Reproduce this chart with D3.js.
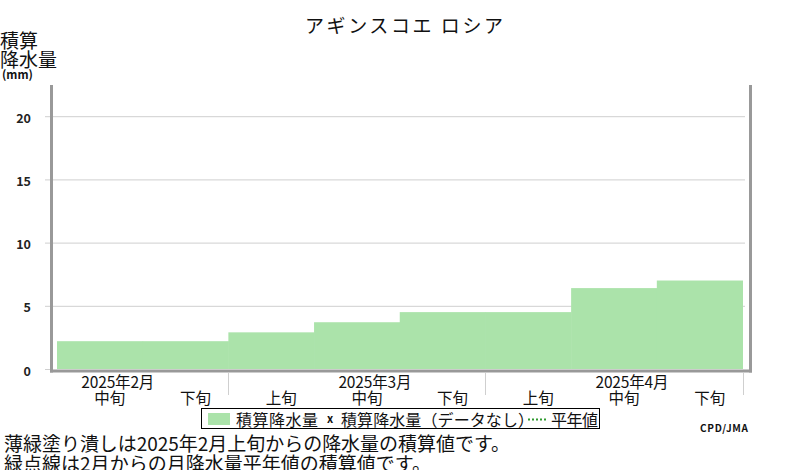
<!DOCTYPE html>
<html>
<head>
<meta charset="utf-8">
<script src="https://cdn.jsdelivr.net/npm/d3@7"></script>
<style>
  body { margin: 0; background: #fff; }
  svg { display: block; }
  text { font-family: "Noto Sans CJK JP", "DejaVu Sans", sans-serif; fill: #111; }
</style>
</head>
<body>
<div id="chart"></div>
<script>
const WIDTH = 800;
const HEIGHT = 470;

// data
const title = "アギンスコエ ロシア";
const dekads = ["中旬", "下旬", "上旬", "中旬", "下旬", "上旬", "中旬", "下旬"];
const months = ["2025年2月", "2025年3月", "2025年4月"];
const monthMid = [0, 3, 6]; // dekad index of each month's 中旬
const monthEnd = [2, 5, 8]; // separator after each month
const totals = [2.2, 2.2, 2.9, 3.7, 4.5, 4.5, 6.4, 7.0];
const yTicks = [0, 5, 10, 15, 20];
const notes = [
  "薄緑塗り潰しは2025年2月上旬からの降水量の積算値です。",
  "緑点線は2月からの月降水量平年値の積算値です。"
];

const GREEN = "#abe3aa";
const AXIS = "#999";
const GRID = "#cfcfcf";

const svg = d3.select("#chart").append("svg")
  .attr("width", WIDTH)
  .attr("height", HEIGHT);

const x = d3.scaleLinear().domain([0, dekads.length]).range([57, 742.5]);
const y = d3.scaleLinear().domain([0, 22.5]).range([369, 84.6]);

// title
svg.append("text")
  .attr("x", 404).attr("y", 24)
  .attr("text-anchor", "middle")
  .attr("dominant-baseline", "central")
  .attr("font-size", 19)
  .attr("textLength", 198)
  .text(title);

// y axis title
svg.append("text").attr("x", 0).attr("y", 39)
  .attr("dominant-baseline", "central").attr("font-size", 19).text("積算");
svg.append("text").attr("x", 0).attr("y", 58)
  .attr("dominant-baseline", "central").attr("font-size", 19).text("降水量");
svg.append("text").attr("x", 2).attr("y", 74)
  .attr("dominant-baseline", "central").attr("font-size", 11.5)
  .attr("font-weight", "bold").attr("font-family", "DejaVu Sans")
  .text("(mm)");

// grid + ticks
svg.append("g").selectAll("line").data(yTicks.filter(d => d > 0)).join("line")
  .attr("x1", 50).attr("x2", 745)
  .attr("y1", d => y(d) + 0.5).attr("y2", d => y(d) + 0.5)
  .attr("stroke", GRID);
svg.append("g").selectAll("line").data(yTicks).join("line")
  .attr("x1", 45).attr("x2", 50)
  .attr("y1", d => y(d) + 0.5).attr("y2", d => y(d) + 0.5)
  .attr("stroke", GRID);
svg.append("g").selectAll("text").data(yTicks).join("text")
  .attr("x", 31).attr("y", d => y(d) + 1)
  .attr("text-anchor", "end")
  .attr("dominant-baseline", "central")
  .attr("font-family", "DejaVu Sans")
  .attr("font-weight", "bold")
  .attr("font-size", 12.5)
  .style("fill", "#222")
  .text(d => d);

// bars
svg.append("g").selectAll("rect").data(totals).join("rect")
  .attr("x", (d, i) => x(i))
  .attr("width", (d, i) => x(i + 1) - x(i) + 0.5)
  .attr("y", d => y(d))
  .attr("height", d => y(0) - y(d))
  .attr("fill", GREEN);

// frame
const frame = svg.append("g").attr("stroke", AXIS).attr("stroke-width", 3).attr("fill", "none");
frame.append("line").attr("x1", 51.5).attr("x2", 51.5).attr("y1", 85).attr("y2", 372.5);
frame.append("line").attr("x1", 50).attr("x2", 752).attr("y1", 371).attr("y2", 371);
frame.append("line").attr("x1", 750.5).attr("x2", 750.5).attr("y1", 85).attr("y2", 372.5);

// month separators
svg.append("g").selectAll("line").data(monthEnd).join("line")
  .attr("x1", d => Math.round(x(d)) + 0.5).attr("x2", d => Math.round(x(d)) + 0.5)
  .attr("y1", 373).attr("y2", 395)
  .attr("stroke", GRID);

// x labels
svg.append("g").selectAll("text").data(dekads).join("text")
  .attr("x", (d, i) => (x(i) + x(i + 1)) / 2 + 10)
  .attr("y", 397)
  .attr("text-anchor", "middle")
  .attr("dominant-baseline", "central")
  .attr("font-size", 15.5)
  .text(d => d);
svg.append("g").selectAll("text").data(months).join("text")
  .attr("x", (d, i) => (x(monthMid[i]) + x(monthMid[i] + 1)) / 2 + 18)
  .attr("y", 381)
  .attr("text-anchor", "middle")
  .attr("dominant-baseline", "central")
  .attr("font-size", 15.5)
  .attr("textLength", 73)
  .text(d => d);

// legend
const lg = svg.append("g");
lg.append("rect").attr("x", 201.5).attr("y", 408.5).attr("width", 398).attr("height", 20)
  .attr("fill", "#fff").attr("stroke", "#000");
lg.append("rect").attr("x", 208).attr("y", 413).attr("width", 22).attr("height", 12).attr("fill", GREEN);
lg.append("text").attr("x", 236).attr("y", 419).attr("dominant-baseline", "central")
  .attr("font-size", 16).attr("textLength", 82).text("積算降水量");
lg.append("text").attr("x", 327).attr("y", 418).attr("dominant-baseline", "central")
  .attr("font-size", 11).attr("font-weight", "bold").attr("font-family", "DejaVu Sans").text("x");
lg.append("text").attr("x", 341).attr("y", 419).attr("dominant-baseline", "central")
  .attr("font-size", 16).attr("textLength", 193).text("積算降水量（データなし）");
lg.append("line").attr("x1", 528).attr("x2", 546).attr("y1", 419.5).attr("y2", 419.5)
  .attr("stroke", "#2e9a2e").attr("stroke-width", 2).attr("stroke-dasharray", "2,2");
lg.append("text").attr("x", 551).attr("y", 419).attr("dominant-baseline", "central")
  .attr("font-size", 16).attr("textLength", 47).text("平年値");

// credit
svg.append("text").attr("x", 700).attr("y", 427)
  .attr("dominant-baseline", "central")
  .attr("font-family", "DejaVu Sans Mono").attr("font-weight", "bold")
  .attr("font-size", 10).attr("textLength", 48)
  .text("CPD/JMA");

// notes
svg.append("g").selectAll("text").data(notes).join("text")
  .attr("x", 4)
  .attr("y", (d, i) => 442 + i * 20)
  .attr("dominant-baseline", "central")
  .attr("font-size", 19)
  .attr("textLength", (d, i) => [506, 427][i])
  .text(d => d);
</script>
</body>
</html>
